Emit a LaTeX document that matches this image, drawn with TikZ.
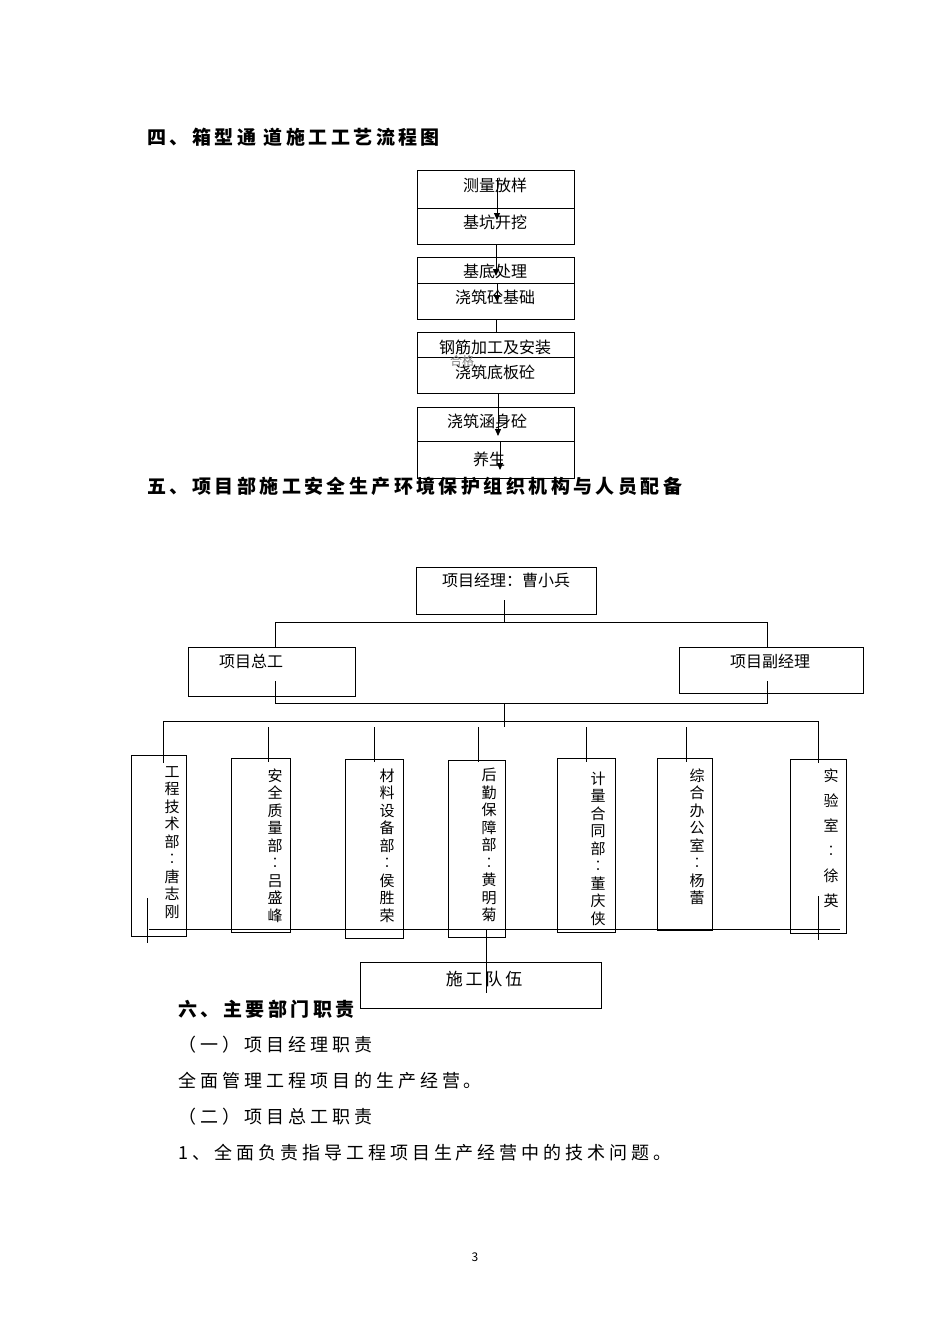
\documentclass[tikz,border=0pt]{standalone}
\usepackage{fontspec}
\setmainfont{Noto Sans CJK SC}
\usetikzlibrary{arrows.meta}
\begin{document}
\begin{tikzpicture}[x=1pt,y=-1pt,line width=1pt,
  bx/.style={draw,inner sep=0pt},
  t/.style={font=\fontsize{16}{16}\selectfont,inner sep=0pt},
  vt/.style={font=\fontsize{15}{17.5}\selectfont,inner sep=0pt,align=center,anchor=north},
  hd/.style={font=\fontsize{19}{19}\bfseries\addfontfeatures{LetterSpace=18}\selectfont,inner sep=0pt,anchor=west},
  bd/.style={font=\fontsize{18}{18}\addfontfeatures{LetterSpace=22}\selectfont,inner sep=0pt,anchor=west},
  ar/.style={-{Triangle[length=7pt,width=6pt]}}]
\useasboundingbox (0,0) rectangle (950,1344);
% headings
\node[hd] (h4) at (147,137) {四、箱型通\ 道施工工艺流程图};
\node[hd] (h5) at (147,486) {五、项目部施工安全生产环境保护组织机构与人员配备};
% flow chart
\draw (417,170) rectangle (574,208);
\draw (417,208) rectangle (574,244);
\draw (417,257) rectangle (574,283);
\draw (417,283) rectangle (574,319);
\draw (417,332) rectangle (574,357);
\draw (417,357) rectangle (574,393);
\draw (417,407) rectangle (574,441);
\draw (417,441) rectangle (574,478);
\node[t] (a1) at (495,185) {测量放样};
\node[t] (a2) at (495,222) {基坑开挖};
\node[t] (a3) at (495,271) {基底处理};
\node[t] (a4) at (495,297) {浇筑砼基础};
\node[t] (a5) at (495,347) {钢筋加工及安装};
\node[t,font=\fontsize{12}{12}\selectfont,text=gray] (a5b) at (462,361) {合格};
\node[t] (a6) at (495,372) {浇筑底板砼};
\node[t] (a7) at (487,421) {浇筑涵身砼};
\node[t] (a8) at (489,459) {养生};
\draw[ar] (497,178) -- (497,220);
\draw[ar] (496,244) -- (496,276);
\draw[ar] (497,283) -- (497,302);
\draw (496,319) -- (496,332);
\draw (498,393) -- (498,407);
\draw[ar] (498,400) -- (498,436);
\draw[ar] (500,441) -- (500,470);
% org chart
\node[bx,minimum width=180pt,minimum height=47pt] (pm) at (506,590.5) {};
\node[t] at (506,580) {项目经理：曹小兵};
\draw (504,600) -- (504,622);
\draw (275,647) -- (275,622) -- (767,622) -- (767,647);
\node[bx,minimum width=167pt,minimum height=49pt] (zg) at (271.5,671.5) {};
\node[t] at (251,661) {项目总工};
\node[bx,minimum width=184pt,minimum height=46pt] (fj) at (771,670) {};
\node[t] at (770,661) {项目副经理};
\draw (275,681) -- (275,703) -- (767,703) -- (767,681);
\draw (504,703) -- (504,727);
\draw (163,763) -- (163,721) -- (818,721) -- (818,763);
\foreach \xa/\xb/\ya/\yb in {131/186/755/936,231/290/758/932,345/403/759/938,448/505/760/937,557/615/758/932,657/712/758/930,790/846/759/933}
  \draw (\xa,\ya) rectangle (\xb,\yb);
\foreach \x in {268,374,478,586,686} \draw (\x,727) -- (\x,762);
\node[vt] (v1) at (172,766) {工\\程\\技\\术\\部\\︰\\唐\\志\\刚};
\node[vt] (v2) at (275,768) {安\\全\\质\\量\\部\\︰\\吕\\盛\\峰};
\node[vt] (v3) at (387,768) {材\\料\\设\\备\\部\\︰\\侯\\胜\\荣};
\node[vt] (v4) at (489,768) {后\\勤\\保\\障\\部\\︰\\黄\\明\\菊};
\node[vt] (v5) at (598,771) {计\\量\\合\\同\\部\\︰\\董\\庆\\侠};
\node[vt] (v6) at (697,768) {综\\合\\办\\公\\室\\︰\\杨\\蕾};
\node[vt,font=\fontsize{15}{25}\selectfont] (v7) at (831,768) {实\\验\\室\\︰\\徐\\英};
\draw (149,929) -- (840,929);
\draw (147,898) -- (147,943);
\draw (818,896) -- (818,940);
\draw (486,930) -- (486,993);
\node[bx,minimum width=241pt,minimum height=46pt] (sg) at (480.5,985) {};
\node[t,font=\fontsize{17}{17}\selectfont] at (484,979) {施\,工\,队\,伍};
% text
\node[hd] (h6) at (178,1009) {六、主要部门职责};
\node[bd] at (178,1045) {（一）项目经理职责};
\node[bd] at (178,1081) {全面管理工程项目的生产经营。};
\node[bd] at (178,1117) {（二）项目总工职责};
\node[bd] at (178,1153) {1、全面负责指导工程项目生产经营中的技术问题。};
\node[t,font=\fontsize{12}{12}\selectfont] at (475,1257) {3};
\end{tikzpicture}
\end{document}
